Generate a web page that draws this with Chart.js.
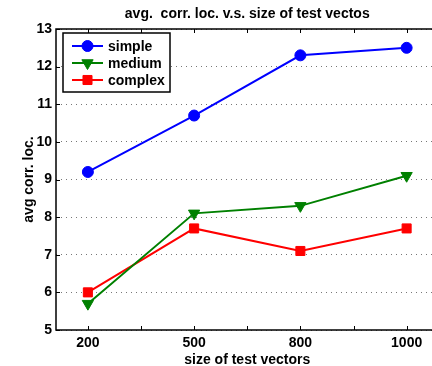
<!DOCTYPE html>
<html><head><meta charset="utf-8">
<script src="https://cdn.jsdelivr.net/npm/chart.js@4"></script>
<style>html,body{margin:0;padding:0;background:#fff;overflow:hidden}
#wrap{width:432px;height:366px;overflow:hidden;position:relative;background:#fff}
canvas{display:block}
</style></head><body>
<div id="wrap"><canvas id="c" width="446" height="366" style="width:446px;height:366px"></canvas></div>
<script>
const categories = ['200', '500', '800', '1000'];
const simpleVals = [9.2, 10.7, 12.3, 12.5];
const mediumVals = [5.7, 8.1, 8.3, 9.1];
const complexVals = [6.0, 7.7, 7.1, 7.7];
const yTickValues = [5, 6, 7, 8, 9, 10, 11, 12, 13];
const xTickValues = [1, 1.5, 2, 2.5, 3, 3.5, 4];
const titleText = 'avg.  corr. loc. v.s. size of test vectos';
const xTitle = 'size of test vectors';
const yTitle = 'avg corr. loc.';

const FONT = '"Liberation Sans", Arial, Helvetica, sans-serif';
function pts(arr){ return arr.map((v,i)=>({x:i+1, y:v})); }

function marker(ctx, style, x, y, r, color){
  ctx.save();
  ctx.fillStyle = color; ctx.strokeStyle = color; ctx.lineWidth = 1;
  ctx.beginPath();
  if (style === 'circle') { ctx.arc(x, y, r, 0, Math.PI*2); }
  else if (style === 'triangle') {
    ctx.moveTo(x - r*0.866, y - r*0.5); ctx.lineTo(x + r*0.866, y - r*0.5); ctx.lineTo(x, y + r); ctx.closePath();
  } else { const s = r*Math.SQRT1_2; ctx.rect(x - s, y - s, 2*s, 2*s); }
  ctx.fill(); ctx.stroke();
  ctx.restore();
}

const boxPlugin = {
  id: 'box',
  afterDraw(chart){
    const {ctx, chartArea:a, scales:{x, y}} = chart;
    ctx.save();
    ctx.fillStyle = '#000';
    ctx.font = 'bold 14px ' + FONT;
    ctx.textAlign = 'center'; ctx.textBaseline = 'middle';
    ctx.fillText(chart.options.plugins.boxTitle.text, (a.left + a.right)/2, 14);
    ctx.strokeStyle = '#000'; ctx.lineWidth = 1.5;
    ctx.strokeRect(a.left, a.top, a.right - a.left, a.bottom - a.top);
    ctx.lineWidth = 1;
    const L = 4;
    ctx.beginPath();
    x.ticks.forEach(t => {
      const px = Math.round(x.getPixelForValue(t.value)) + 0.5;
      ctx.moveTo(px, a.bottom); ctx.lineTo(px, a.bottom - L);
      ctx.moveTo(px, a.top); ctx.lineTo(px, a.top + L);
    });
    y.ticks.forEach(t => {
      const py = Math.round(y.getPixelForValue(t.value)) + 0.5;
      ctx.moveTo(a.left, py); ctx.lineTo(a.left + L, py);
      ctx.moveTo(a.right, py); ctx.lineTo(a.right - L, py);
    });
    ctx.stroke();
    const bx = a.left + 7, by = a.top + 4, bw = 107, bh = 59;
    ctx.fillStyle = '#fff';
    ctx.fillRect(bx, by, bw, bh);
    ctx.lineWidth = 1.5; ctx.strokeStyle = '#000';
    ctx.strokeRect(bx, by, bw, bh);
    ctx.font = 'bold 14px ' + FONT;
    ctx.textBaseline = 'middle'; ctx.textAlign = 'left';
    chart.data.datasets.forEach((ds, i) => {
      const yy = by + 13 + 17*i;
      ctx.strokeStyle = ds.borderColor; ctx.lineWidth = 2;
      ctx.beginPath(); ctx.moveTo(bx + 9, yy); ctx.lineTo(bx + 40, yy); ctx.stroke();
      marker(ctx, ds.pointStyle, bx + 24.5, yy, ds.pointRadius, ds.borderColor);
      ctx.fillStyle = '#000';
      ctx.fillText(ds.label, bx + 45, yy + 1);
    });
    ctx.restore();
  }
};

Chart.defaults.font.family = FONT;
Chart.defaults.color = '#000';

new Chart(document.getElementById('c'), {
  type: 'line',
  data: {
    datasets: [
      {label:'simple', data: pts(simpleVals), borderColor:'#0000ff', backgroundColor:'#0000ff', pointStyle:'circle', pointRadius:5.5, borderWidth:2, pointBorderWidth:1},
      {label:'medium', data: pts(mediumVals), borderColor:'#008000', backgroundColor:'#008000', pointStyle:'triangle', pointRotation:180, pointRadius:6.5, borderWidth:2, pointBorderWidth:1},
      {label:'complex', data: pts(complexVals), borderColor:'#ff0000', backgroundColor:'#ff0000', pointStyle:'rect', pointRadius:6.4, borderWidth:2, pointBorderWidth:1}
    ]
  },
  options: {
    responsive: false,
    animation: false,
    layout: {padding: {left:0, right:0, top:29, bottom:0}},
    plugins: {
      legend: {display:false},
      tooltip: {enabled:false},
      title: {display:false},
      boxTitle: {text: titleText}
    },
    scales: {
      x: {
        type:'linear', min:0.7, max:4.3,
        afterBuildTicks: s => { s.ticks = xTickValues.map(v => ({value:v})); },
        afterFit: s => { s.height = 36; s.paddingLeft = 0; s.paddingRight = 0; },
        grid: {display:false, drawTicks:false},
        border: {display:false},
        ticks: {autoSkip:false, maxRotation:0, padding:5, font:{size:14, weight:'bold'},
          callback: v => Number.isInteger(v) ? categories[v-1] : ''},
        title: {display:true, text:xTitle, font:{size:14, weight:'bold'}, padding:{top:0, bottom:-3}}
      },
      y: {
        min:5, max:13,
        afterBuildTicks: s => { s.ticks = yTickValues.map(v => ({value:v})); },
        afterFit: s => { s.width = 56; s.paddingTop = 0; s.paddingBottom = 0; },
        grid: {color:'#777', lineWidth:1, drawTicks:false},
        border: {display:false, dash:[1,4]},
        ticks: {padding:4, font:{size:14, weight:'bold'}},
        title: {display:true, text:yTitle, font:{size:14, weight:'bold'}, padding:{top:21, bottom:0}}
      }
    }
  },
  plugins: [boxPlugin]
});
</script>
</body></html>
